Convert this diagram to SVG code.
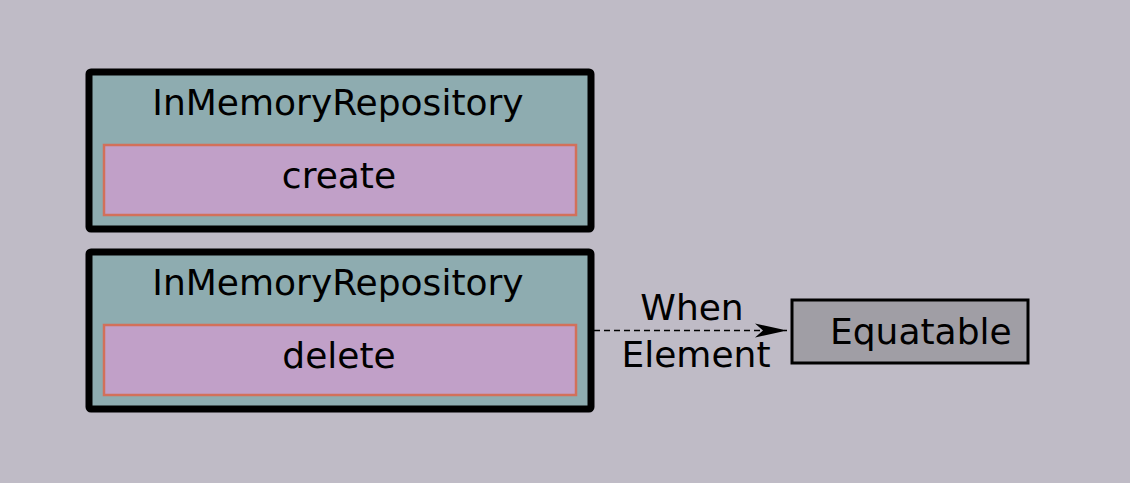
<svg xmlns="http://www.w3.org/2000/svg" width="1130" height="483" viewBox="0 0 1130 483">
<style>
text{font-family:"DejaVu Sans","Liberation Sans",sans-serif;font-size:36px;fill:#000}
.outer{fill:#8eacb0;stroke:#000;stroke-width:7}
.inner{fill:#c1a0c8;stroke:#d2705a;stroke-width:2.5}
.ext{fill:#a09ea5;stroke:#000;stroke-width:3}
.mid{text-anchor:middle}
.edge{fill:none;stroke:#000;stroke-width:1.5;stroke-dasharray:6,4}
</style>
<defs>
<marker id="arr" markerUnits="userSpaceOnUse" markerWidth="34" markerHeight="16" refX="32" refY="7" orient="auto" viewBox="0 0 34 14">
<path d="M0,0 L32,7 L0,14 L8,7 Z" fill="#000"/>
</marker>
</defs>
<rect width="1130" height="483" fill="#bfbbc6"/>
<g id="node-create">
<rect class="outer" x="89" y="72" width="502" height="157" rx="2"/>
<text class="mid" x="338" y="115">InMemoryRepository</text>
<rect class="inner" x="104" y="145" width="472" height="70"/>
<text class="mid" x="339" y="188">create</text>
</g>
<g id="node-delete">
<rect class="outer" x="89" y="252" width="502" height="157" rx="2"/>
<text class="mid" x="338" y="295">InMemoryRepository</text>
<rect class="inner" x="104" y="325" width="472" height="70"/>
<text class="mid" x="339" y="368">delete</text>
</g>
<g id="node-equatable">
<rect class="ext" x="792" y="300" width="236" height="63"/>
<text x="830" y="344">Equatable</text>
</g>
<g id="connectors">
<path class="edge" d="M594,330.5 L787,330.5" marker-end="url(#arr)"/>
<text class="mid" x="692" y="320">When</text>
<text class="mid" x="696" y="367">Element</text>
</g>
</svg>
